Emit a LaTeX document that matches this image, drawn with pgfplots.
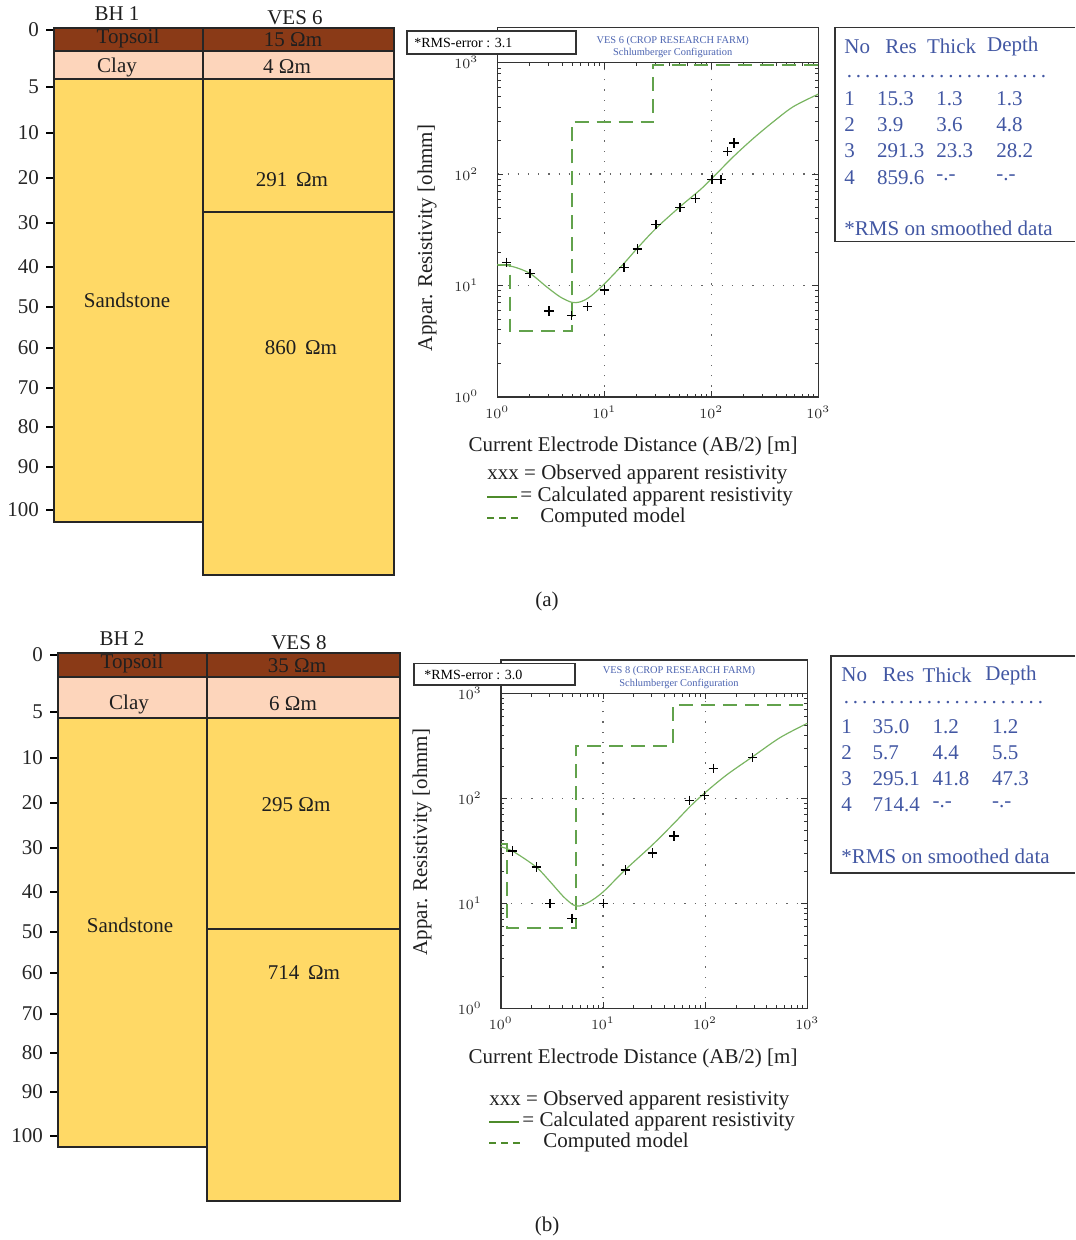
\documentclass[border=0pt]{standalone}
\usepackage{fontspec}
\setmainfont{Liberation Serif}
\usepackage{pgfplots}
\pgfplotsset{compat=1.18}

\definecolor{topsoil}{HTML}{8A3A17}
\definecolor{clay}{HTML}{FDD5BB}
\definecolor{sand}{HTML}{FFD966}
\definecolor{tblue}{HTML}{4257A3}
\definecolor{ttitle}{HTML}{4B63B0}
\definecolor{curvegreen}{HTML}{7AB562}
\definecolor{modelgreen}{HTML}{62A24C}
\definecolor{leggreen}{HTML}{4E8B2B}

\newcommand\lbl{\fontsize{10.5}{12}\selectfont}

\tikzset{
  stlayer/.style={draw=black!85, line width=0.6pt},
  stobs/.style={only marks, mark=+, mark size=2.3pt, black, line width=0.6pt},
  stcalc/.style={curvegreen, line width=0.6pt, smooth},
  stmodel/.style={modelgreen, line width=1pt, dash pattern=on 7pt off 4pt},
}

\begin{document}
\begin{tikzpicture}
\begin{scope}[x=0.5pt,y=-0.5pt]
\path[use as bounding box] (0,0) rectangle (1075,1240);
\end{scope}

% ---------- (a) BH 1 / VES 6 columns (pixel units) ----------
\begin{axis}[scale only axis, anchor=north west, y dir=reverse,
  axis line style={draw=none}, xtick=\empty,
  ytick pos=left, tick align=outside, major tick length=4pt,
  tick style={black, line width=0.7pt},
  yticklabels={0,5,10,20,30,40,50,60,70,80,90,100},
  yticklabel style={font=\lbl, text=black!85}, clip=false,
  at={(27pt,-14pt)}, width=170pt, height=274pt,
  xmin=54, xmax=394, ymin=28, ymax=576,
  ytick={30,87,133,178,223,267,307,348,388,427,467,510}]
\addplot[stlayer, fill=topsoil] coordinates {(54,28) (203,28) (203,51) (54,51)} -- cycle;
\addplot[stlayer, fill=topsoil] coordinates {(203,28) (394,28) (394,51) (203,51)} -- cycle;
\addplot[stlayer, fill=clay] coordinates {(54,51) (203,51) (203,79) (54,79)} -- cycle;
\addplot[stlayer, fill=clay] coordinates {(203,51) (394,51) (394,79) (203,79)} -- cycle;
\addplot[stlayer, fill=sand] coordinates {(54,79) (203,79) (203,522) (54,522)} -- cycle;
\addplot[stlayer, fill=sand] coordinates {(203,79) (394,79) (394,212) (203,212)} -- cycle;
\addplot[stlayer, fill=sand] coordinates {(203,212) (394,212) (394,575) (203,575)} -- cycle;
\end{axis}

% ---------- (b) BH 2 / VES 8 columns ----------
\begin{axis}[scale only axis, anchor=north west, y dir=reverse,
  axis line style={draw=none}, xtick=\empty,
  ytick pos=left, tick align=outside, major tick length=4pt,
  tick style={black, line width=0.7pt},
  yticklabels={0,5,10,20,30,40,50,60,70,80,90,100},
  yticklabel style={font=\lbl, text=black!85}, clip=false,
  at={(29pt,-326.5pt)}, width=171pt, height=274pt,
  xmin=58, xmax=400, ymin=653, ymax=1201,
  ytick={655,712,758,803,848,892,932,973,1014,1053,1092,1136}]
\addplot[stlayer, fill=topsoil] coordinates {(58,653) (207,653) (207,677) (58,677)} -- cycle;
\addplot[stlayer, fill=topsoil] coordinates {(207,653) (400,653) (400,677) (207,677)} -- cycle;
\addplot[stlayer, fill=clay] coordinates {(58,677) (207,677) (207,718) (58,718)} -- cycle;
\addplot[stlayer, fill=clay] coordinates {(207,677) (400,677) (400,718) (207,718)} -- cycle;
\addplot[stlayer, fill=sand] coordinates {(58,718) (207,718) (207,1147) (58,1147)} -- cycle;
\addplot[stlayer, fill=sand] coordinates {(207,718) (400,718) (400,929) (207,929)} -- cycle;
\addplot[stlayer, fill=sand] coordinates {(207,929) (400,929) (400,1201) (207,1201)} -- cycle;
\end{axis}

% ---------- (a) VES 6 curve ----------
\begin{axis}[scale only axis, anchor=north west,
  xmode=log, ymode=log, xmin=1, xmax=1000, ymin=1, ymax=1000,
  xtick={1,10,100,1000}, ytick={1,10,100,1000},
  xticklabels={$10^0$,$10^1$,$10^2$,$10^3$},
  yticklabels={$10^0$,$10^1$,$10^2$,$10^3$},
  tick label style={font=\fontsize{7}{8}\selectfont, text=black!85},
  xticklabel style={yshift=-1pt}, yticklabel style={xshift=-6pt},
  grid=major,
  major grid style={black!60, line width=0.6pt, dash pattern=on 0.6pt off 4.5pt},
  axis line style={line width=0.8pt, black!80},
  major tick length=3pt, minor tick length=1.6pt, tick style={black!80},
  at={(248.65pt,-31.35pt)}, width=160.5pt, height=167pt]
\addplot[stmodel] coordinates {(1,15.3) (1.3,15.3) (1.3,3.9) (4.95,3.9) (4.95,291) (28.7,291) (28.7,950) (1000,950)};
\addplot[stcalc] coordinates {(1,15.4) (1.41,14.7) (2.02,12.8) (2.89,9.7) (3.85,7.9) (4.95,7.05) (5.93,7.1) (7.35,7.9) (10.1,10.4) (15.3,15.8) (20.3,21.5) (30.4,32.5) (51,50.9) (78.3,71.9) (101.5,91.5) (160.6,143) (247,209) (380,295) (584,403) (1000,522)};
\addplot[stobs] coordinates {(1.22,16.1) (2.02,12.8) (3.04,5.88) (4.95,5.34) (6.98,6.43) (10.1,9.08) (15.3,14.4) (20.3,21.2) (30.4,35.3) (51,49.9) (70.8,60.4) (101.5,89.6) (123,89.6) (142,159) (163,190)};
\end{axis}

% ---------- (b) VES 8 curve ----------
\begin{axis}[scale only axis, anchor=north west,
  xmode=log, ymode=log, xmin=1, xmax=1000, ymin=1, ymax=1000,
  xtick={1,10,100,1000}, ytick={1,10,100,1000},
  xticklabels={$10^0$,$10^1$,$10^2$,$10^3$},
  yticklabels={$10^0$,$10^1$,$10^2$,$10^3$},
  tick label style={font=\fontsize{7}{8}\selectfont, text=black!85},
  xticklabel style={yshift=-1pt}, yticklabel style={xshift=-6pt},
  grid=major,
  major grid style={black!60, line width=0.6pt, dash pattern=on 0.6pt off 4.5pt},
  axis line style={line width=0.8pt, black!80},
  major tick length=3pt, minor tick length=1.6pt, tick style={black!80},
  at={(250.35pt,-346.65pt)}, width=153.3pt, height=157.5pt]
\addplot[stmodel] coordinates {(1,36.5) (1.15,36.5) (1.15,5.87) (5.46,5.87) (5.46,318) (48.1,318) (48.1,774) (1000,774)};
\addplot[stcalc] coordinates {(1,34.6) (1.33,31.1) (2.22,22.2) (3.04,16.1) (4.10,11.6) (5.14,9.64) (5.97,9.44) (7.48,10.4) (10.1,12.9) (16.5,20.8) (30.4,35.9) (49.6,57.8) (71.1,83.3) (98.2,111.6) (162.5,167) (292,249) (540,378) (1000,518)};
\addplot[stobs] coordinates {(1.31,31.5) (2.22,22.2) (3.04,10) (4.99,7.2) (10.1,10) (16.5,20.8) (30.4,30.2) (49.6,43.8) (70,95.7) (98.2,106) (120,193) (292,244)};
\end{axis}

% ---------- texts and frames (pixel units) ----------
\begin{scope}[x=0.5pt,y=-0.5pt, every node/.style={font=\lbl, text=black!88, inner sep=0pt}]
% column labels (a)
\node at (117,14) {BH 1};
\node at (295,18) {VES 6};
\node at (128,38) {Topsoil};
\node at (293,40) {15 Ωm};
\node at (117,67) {Clay};
\node at (287,67) {4 Ωm};
\node at (292,180) {291\, Ωm};
\node at (127,300) {Sandstone};
\node at (301,348) {860\, Ωm};
% column labels (b)
\node at (122,639) {BH 2};
\node at (299,643) {VES 8};
\node at (132,663) {Topsoil};
\node at (297,666) {35 Ωm};
\node at (129,704) {Clay};
\node at (293,704) {6 Ωm};
\node at (296,805) {295 Ωm};
\node at (130,925) {Sandstone};
\node at (304,973) {714\, Ωm};

% VES 6 boxes
\draw[black!80, line width=0.8pt] (497.3,27.7) rectangle (818.3,62.7);
\node[font=\fontsize{5.2}{6}\selectfont, text=ttitle] at (672.7,40.7) {VES 6 (CROP RESEARCH FARM)};
\node[font=\fontsize{5.2}{6}\selectfont, text=ttitle] at (672.7,53.3) {Schlumberger Configuration};
\draw[black!80, line width=0.8pt, fill=white] (406.7,31) rectangle (575.7,54.3);
\node[anchor=west, font=\fontsize{7}{8}\selectfont, text=black] at (414,42.7) {*RMS-error : 3.1};
% VES 8 boxes
\draw[black!80, line width=0.8pt] (500.7,660) rectangle (807.3,693.3);
\node[font=\fontsize{5.2}{6}\selectfont, text=ttitle] at (679,671) {VES 8 (CROP RESEARCH FARM)};
\node[font=\fontsize{5.2}{6}\selectfont, text=ttitle] at (679,684.3) {Schlumberger Configuration};
\draw[black!80, line width=0.8pt, fill=white] (414,663.3) rectangle (575,685);
\node[anchor=west, font=\fontsize{7}{8}\selectfont, text=black] at (424,674.5) {*RMS-error : 3.0};

% axis labels
\node[rotate=90] at (427,238) {Appar. Resistivity [ohmm]};
\node at (633,446) {Current Electrode Distance (AB/2) [m]};
\node[rotate=90] at (422,842) {Appar. Resistivity [ohmm]};
\node at (633,1058) {Current Electrode Distance (AB/2) [m]};

% legends
\node[anchor=west] at (487,474) {xxx = Observed apparent resistivity};
\draw[leggreen, line width=0.8pt] (487,497) -- (517,497);
\node[anchor=west] at (520,496) {= Calculated apparent resistivity};
\draw[leggreen, line width=0.8pt, dash pattern=on 3.5pt off 2.5pt] (487,518) -- (519,518);
\node[anchor=west] at (540,517) {Computed model};

\node[anchor=west] at (489,1100) {xxx = Observed apparent resistivity};
\draw[leggreen, line width=0.8pt] (489,1122) -- (519,1122);
\node[anchor=west] at (522,1121) {= Calculated apparent resistivity};
\draw[leggreen, line width=0.8pt, dash pattern=on 3.5pt off 2.5pt] (489,1143) -- (521,1143);
\node[anchor=west] at (543,1142) {Computed model};

% tables
\draw[black!80, line width=0.8pt] (1075,27.7) -- (835,27.7) -- (835,241.7) -- (1075,241.7);
\begin{scope}[every node/.append style={anchor=west, text=tblue}]
\node at (844,46.7) {No}; \node at (885,46.7) {Res}; \node at (926.7,46.7) {Thick}; \node at (986.7,46.7) {Depth};
\node at (844,76.7) {\makebox[102pt]{\dotfill}};
\node at (844,98.3) {1}; \node at (876.7,98.3) {15.3}; \node at (936,98.3) {1.3}; \node at (996,98.3) {1.3};
\node at (844,125) {2}; \node at (876.7,125) {3.9}; \node at (936,125) {3.6}; \node at (996,125) {4.8};
\node at (844,151) {3}; \node at (876.7,151) {291.3}; \node at (936,151) {23.3}; \node at (996,151) {28.2};
\node at (844,177.7) {4}; \node at (876.7,177.7) {859.6}; \node at (936,177.7) {-.-}; \node at (996,177.7) {-.-};
\node at (844,228.3) {*RMS on smoothed data};
\end{scope}

\draw[black!80, line width=0.8pt] (1075,656) -- (831,656) -- (831,872.7) -- (1075,872.7);
\begin{scope}[every node/.append style={anchor=west, text=tblue}]
\node at (841,675) {No}; \node at (882.3,675) {Res}; \node at (922.3,675) {Thick}; \node at (985,675) {Depth};
\node at (841,703) {\makebox[102pt]{\dotfill}};
\node at (841,727) {1}; \node at (872.3,727) {35.0}; \node at (932.3,727) {1.2}; \node at (991.7,727) {1.2};
\node at (841,753) {2}; \node at (872.3,753) {5.7}; \node at (932.3,753) {4.4}; \node at (991.7,753) {5.5};
\node at (841,779) {3}; \node at (872.3,779) {295.1}; \node at (932.3,779) {41.8}; \node at (991.7,779) {47.3};
\node at (841,805) {4}; \node at (872.3,805) {714.4}; \node at (932.3,805) {-.-}; \node at (991.7,805) {-.-};
\node at (841,856.7) {*RMS on smoothed data};
\end{scope}

% captions
\node at (547,601) {(a)};
\node at (547,1226) {(b)};
\end{scope}
\end{tikzpicture}
\end{document}
